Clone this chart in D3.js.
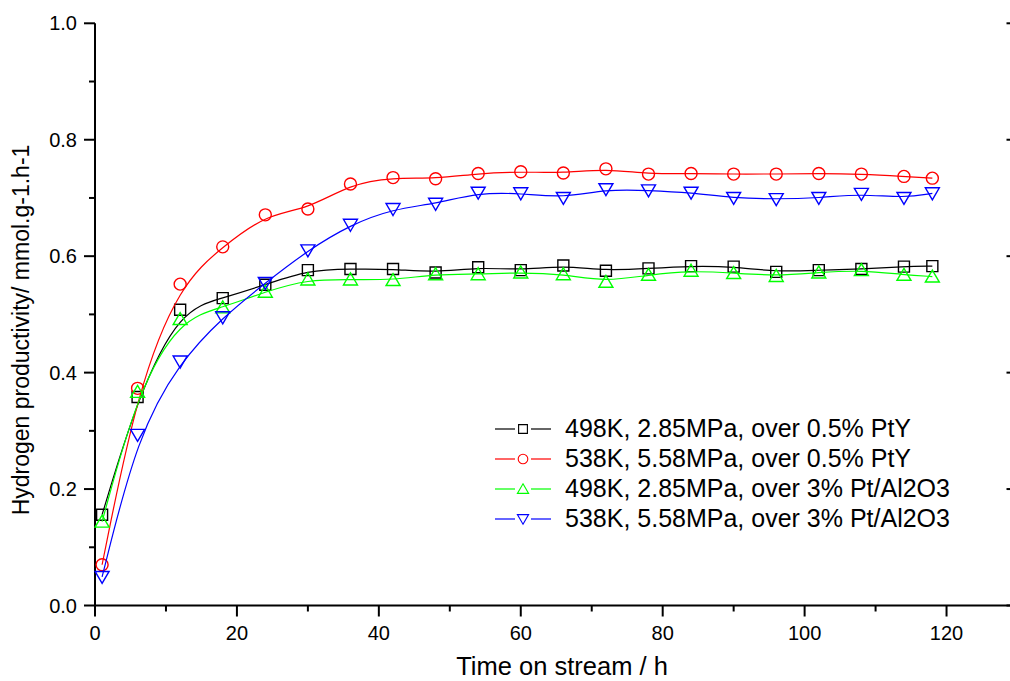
<!DOCTYPE html>
<html>
<head>
<meta charset="utf-8">
<script src="https://cdn.jsdelivr.net/npm/d3@7"></script>
<style>
  body { margin: 0; background: #fff; }
  svg { display: block; font-family: "Liberation Sans", Arial, sans-serif; }
</style>
</head>
<body>
<svg id="chart" width="1010" height="681"></svg>
<script>
// time on stream (h)
const hours = [1, 6, 12, 18, 24, 30, 36, 42, 48, 54, 60, 66, 72, 78, 84, 90, 96, 102, 108, 114, 118];

// hydrogen productivity, mmol/g/h
const pty498 = [0.156, 0.358, 0.508, 0.528, 0.551, 0.576, 0.578, 0.578, 0.572, 0.581, 0.576, 0.584, 0.575, 0.579, 0.583, 0.582, 0.573, 0.576, 0.578, 0.582, 0.583];
const pty538 = [0.070, 0.373, 0.552, 0.616, 0.671, 0.681, 0.724, 0.735, 0.733, 0.742, 0.745, 0.743, 0.750, 0.741, 0.742, 0.741, 0.741, 0.742, 0.741, 0.737, 0.734];
const ptal498 = [0.144, 0.367, 0.492, 0.512, 0.539, 0.560, 0.560, 0.559, 0.569, 0.569, 0.572, 0.569, 0.556, 0.568, 0.575, 0.571, 0.566, 0.572, 0.576, 0.568, 0.565];
const ptal538 = [0.049, 0.293, 0.419, 0.495, 0.554, 0.610, 0.654, 0.681, 0.690, 0.709, 0.708, 0.700, 0.715, 0.713, 0.709, 0.700, 0.698, 0.700, 0.707, 0.700, 0.708];

const seriesNames = [
  "498K, 2.85MPa, over 0.5% PtY",
  "538K, 5.58MPa, over 0.5% PtY",
  "498K, 2.85MPa, over 3% Pt/Al2O3",
  "538K, 5.58MPa, over 3% Pt/Al2O3"
];
const seriesValues = [pty498, pty538, ptal498, ptal538];
const seriesColors = ["#000000", "#ff0000", "#00ff00", "#0000ff"];
const seriesSymbols = ["square", "circle", "up", "down"];

const xTicks = [0, 20, 40, 60, 80, 100, 120];
const yTicks = [0.0, 0.2, 0.4, 0.6, 0.8, 1.0];

const svg = d3.select("#chart");
const x = d3.scaleLinear().domain([0, 130]).range([95, 1017.5]);
const y = d3.scaleLinear().domain([0, 1]).range([605.5, 23.3]);

// symbol path centred at 0,0
function symbolPath(kind) {
  if (kind === "square") return "M-5.5,-5.5H5.5V5.5H-5.5Z";
  if (kind === "circle") return "M-6,0A6,6 0 1,0 6,0A6,6 0 1,0 -6,0Z";
  if (kind === "up") return "M0,-6.5L7,5.5H-7Z";
  return "M0,6.5L7,-5.5H-7Z";
}

// axes
const axisG = svg.append("g").attr("stroke", "#000").attr("fill", "none");

function drawAxis() {
  // x axis
  axisG.append("line").attr("x1", x(0)).attr("x2", x(130)).attr("y1", y(0)).attr("y2", y(0)).attr("stroke-width", 2);
  d3.range(0, 131, 10).forEach(v => {
    const major = v % 20 === 0;
    axisG.append("line").attr("x1", x(v)).attr("x2", x(v))
      .attr("y1", y(0)).attr("y2", y(0) + (major ? 11 : 6)).attr("stroke-width", 2);
  });
  // left y axis
  axisG.append("line").attr("x1", x(0)).attr("x2", x(0)).attr("y1", y(0)).attr("y2", y(1)).attr("stroke-width", 2);
  d3.range(0, 11).forEach(i => {
    const v = i / 10, major = i % 2 === 0;
    axisG.append("line").attr("x1", x(0)).attr("x2", x(0) - (major ? 11 : 6))
      .attr("y1", y(v)).attr("y2", y(v)).attr("stroke-width", 2);
  });
  // right y axis (ticks point inward)
  axisG.append("line").attr("x1", x(130)).attr("x2", x(130)).attr("y1", y(0)).attr("y2", y(1)).attr("stroke-width", 2);
  yTicks.forEach(v => {
    axisG.append("line").attr("x1", x(130)).attr("x2", x(130) - 11)
      .attr("y1", y(v)).attr("y2", y(v)).attr("stroke-width", 2);
  });

  svg.append("g").selectAll("text").data(xTicks).enter().append("text")
    .attr("x", d => x(d)).attr("y", y(0) + 34.5)
    .attr("text-anchor", "middle").style("font-size", "20px")
    .text(d => d);
  svg.append("g").selectAll("text").data(yTicks).enter().append("text")
    .attr("x", x(0) - 18).attr("y", d => y(d) + 7)
    .attr("text-anchor", "end").style("font-size", "20px")
    .text(d => d.toFixed(1));

  svg.append("text").attr("x", 562).attr("y", 675)
    .attr("text-anchor", "middle").style("font-size", "25.5px")
    .text("Time on stream / h");
  svg.append("text").attr("transform", "translate(28.5,330) rotate(-90)")
    .attr("text-anchor", "middle").style("font-size", "23px")
    .text("Hydrogen productivity/ mmol.g-1.h-1");
}
drawAxis();

// curves
const line = d3.line().x(d => x(d[0])).y(d => y(d[1])).curve(d3.curveBasis);

seriesValues.forEach((vals, i) => {
  const pts = hours.map((h, j) => [h, vals[j]]);
  const g = svg.append("g");
  g.append("path").attr("d", line(pts))
    .attr("fill", "none").attr("stroke", seriesColors[i]).attr("stroke-width", 1.2);
  g.selectAll("path.mk").data(pts).enter().append("path")
    .attr("class", "mk")
    .attr("transform", d => "translate(" + x(d[0]) + "," + y(d[1]) + ")")
    .attr("d", symbolPath(seriesSymbols[i]))
    .attr("fill", "none").attr("stroke", seriesColors[i]).attr("stroke-width", 1.4);
});

// legend
const legend = svg.append("g").attr("transform", "translate(495,429)");
seriesNames.forEach((name, i) => {
  const row = legend.append("g").attr("transform", "translate(0," + i * 30 + ")");
  row.append("line").attr("x1", 0).attr("x2", 20).attr("stroke", seriesColors[i]).attr("stroke-width", 1.2);
  row.append("line").attr("x1", 36).attr("x2", 56).attr("stroke", seriesColors[i]).attr("stroke-width", 1.2);
  row.append("path").attr("transform", "translate(28,0) scale(0.8)")
    .attr("d", symbolPath(seriesSymbols[i]))
    .attr("fill", "none").attr("stroke", seriesColors[i]).attr("stroke-width", 1.4);
  row.append("text").attr("x", 70).attr("y", 7.5).style("font-size", "25px").text(name);
});
</script>
</body>
</html>
